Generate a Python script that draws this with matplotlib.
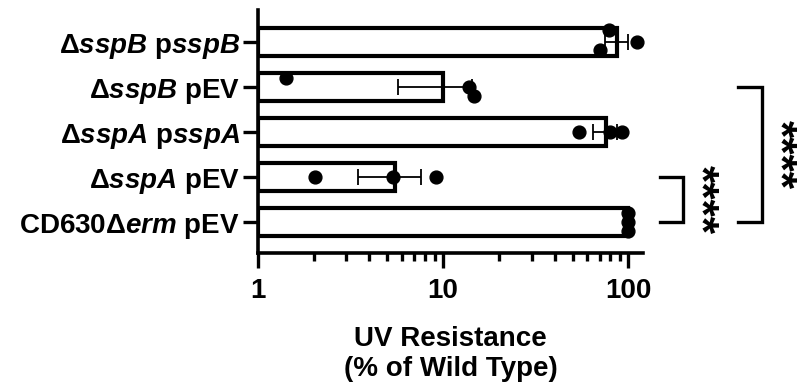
import numpy as np
import matplotlib
matplotlib.use("Agg")
from matplotlib import pyplot as plt
from matplotlib import transforms
from matplotlib.ticker import LogLocator, FixedLocator, NullFormatter

plt.rcParams['font.family'] = ['Liberation Sans', 'DejaVu Sans']
plt.rcParams['font.weight'] = 'bold'
plt.rcParams['mathtext.fontset'] = 'custom'
plt.rcParams['mathtext.it'] = 'Liberation Sans:italic:bold'
plt.rcParams['mathtext.rm'] = 'Liberation Sans:bold'

# strains, top to bottom as shown
strains = [r"Δ$\mathit{sspB}$ p$\mathit{sspB}$",
           r"Δ$\mathit{sspB}$ pEV",
           r"Δ$\mathit{sspA}$ p$\mathit{sspA}$",
           r"Δ$\mathit{sspA}$ pEV",
           r"CD630Δ$\mathit{erm}$ pEV"]

# UV resistance replicates (% of wild type)
sspB_psspB = [79, 70.6, 112]
sspB_pEV = [1.42, 13.8, 14.7]
sspA_psspA = [54, 80, 92]
sspA_pEV = [2.03, 5.36, 9.17]
cd630_pEV = [100, 100, 100]
replicates = [sspB_psspB, sspB_pEV, sspA_psspA, sspA_pEV, cd630_pEV]

xticks = [1, 10, 100]
xticklabels = ["1", "10", "100"]

# significance comparisons (row index pairs) and labels
comparisons = [(3, 4), (1, 4)]
sig_labels = ["****", "****"]

# vertical stacking of overlapping dots (layout only)
dot_offsets = [[0.28, -0.18, 0.0],
               [0.2, 0.0, -0.2],
               [0.0, 0.0, 0.0],
               [0.0, 0.0, 0.0],
               [0.2, 0.0, -0.2]]

n = len(strains)
ypos = np.arange(n)[::-1]
means = np.array([np.mean(r) for r in replicates])
sems = np.array([np.std(r, ddof=1) / np.sqrt(len(r)) for r in replicates])

fig = plt.figure(figsize=(7.97, 3.84), dpi=100)
ax = fig.add_axes([0.3237, 0.341, 0.4831, 0.633])

ax.barh(ypos, means - 1, left=1, height=0.62, color='white',
        edgecolor='black', linewidth=3, zorder=2)
ax.errorbar(means, ypos, xerr=sems, fmt='none', ecolor='black',
            elinewidth=1.3, capsize=5.5, capthick=1.3, zorder=3)
for i, r in enumerate(replicates):
    ax.scatter(r, ypos[i] + np.array(dot_offsets[i]), s=85, color='black',
               zorder=4, clip_on=False)

ax.set_xscale('log')
ax.set_xlim(1, 120)
ax.set_ylim(-0.69, n - 1 + 0.72)
ax.xaxis.set_major_locator(FixedLocator(xticks))
ax.set_xticklabels(xticklabels)
ax.xaxis.set_minor_locator(LogLocator(base=10, subs=np.arange(2, 10)))
ax.xaxis.set_minor_formatter(NullFormatter())
ax.set_yticks(ypos)
ax.set_yticklabels(strains)

for s in ['top', 'right']:
    ax.spines[s].set_visible(False)
for s in ['left', 'bottom']:
    ax.spines[s].set_linewidth(2.6)
ax.tick_params(axis='both', which='major', length=11, width=2.4,
               labelsize=20, pad=2)
ax.tick_params(axis='x', which='major', pad=7)
ax.tick_params(axis='x', which='minor', length=6, width=2.4)

ax.set_xlabel("UV Resistance\n(% of Wild Type)", fontsize=20,
              fontweight='bold', labelpad=16)

# significance brackets
trans = transforms.blended_transform_factory(ax.transAxes, ax.transData)
bracket_x = [(1.044, 1.104), (1.247, 1.309)]
star_x = [1.145, 1.350]
for (a, b), (x0, x1), sx, lab in zip(comparisons, bracket_x, star_x, sig_labels):
    ya, yb = ypos[a], ypos[b]
    ax.plot([x0, x1, x1, x0], [ya, ya, yb, yb], color='black', lw=2.4,
            transform=trans, clip_on=False, solid_joinstyle='miter')
    ax.text(sx, (ya + yb) / 2, lab, rotation=270, ha='center', va='center',
            fontsize=32, fontweight='bold', transform=trans)

fig.savefig('out.png', dpi=100)
